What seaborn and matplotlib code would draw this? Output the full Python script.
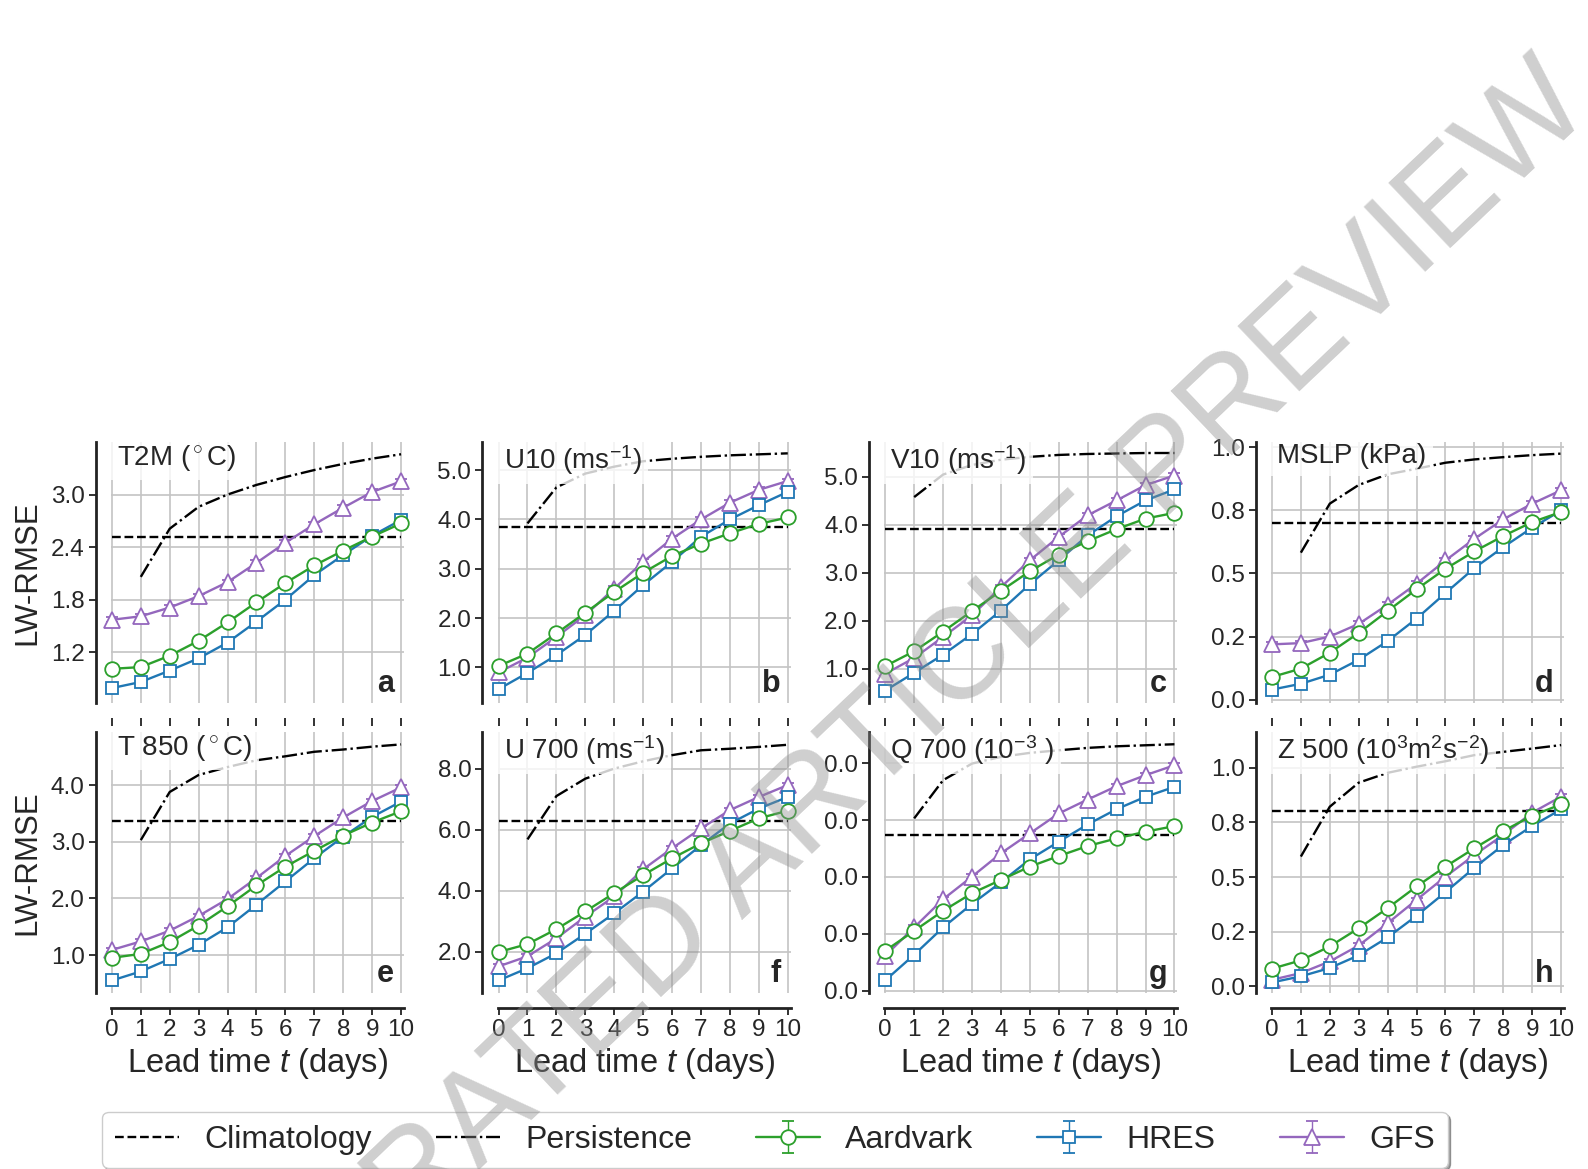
import matplotlib
matplotlib.use("Agg")
import matplotlib.pyplot as plt
import seaborn as sns
from matplotlib.ticker import FormatStrFormatter, FixedLocator

# === Data ===
DAYS = list(range(11))
PERS_DAYS = list(range(1, 11))

VARIABLES = ["T2M ($^\\circ$C)", "U10 (ms$^{-1}$)", "V10 (ms$^{-1}$)", "MSLP (kPa)",
             "T 850 ($^\\circ$C)", "U 700 (ms$^{-1}$)", "Q 700 (10$^{-3}$ )",
             "Z 500 (10$^3$m$^2$s$^{-2}$)"]
PANEL_LETTERS = ["a", "b", "c", "d", "e", "f", "g", "h"]

AARDVARK_RMSE = [
    [1.01, 1.03, 1.16, 1.33, 1.54, 1.77, 1.99, 2.19, 2.36, 2.52, 2.67],
    [1.03, 1.28, 1.69, 2.11, 2.53, 2.92, 3.26, 3.51, 3.72, 3.91, 4.04],
    [1.05, 1.36, 1.77, 2.20, 2.62, 3.03, 3.38, 3.66, 3.91, 4.13, 4.25],
    [0.090, 0.123, 0.186, 0.264, 0.351, 0.437, 0.518, 0.587, 0.648, 0.703, 0.743],
    [0.95, 1.02, 1.23, 1.52, 1.86, 2.23, 2.56, 2.84, 3.11, 3.34, 3.54],
    [1.99, 2.25, 2.74, 3.32, 3.92, 4.51, 5.06, 5.55, 5.96, 6.37, 6.62],
    [0.000351, 0.000526, 0.000702, 0.000857, 0.000974, 0.001091, 0.001184,
     0.001272, 0.001339, 0.001398, 0.001447],
    [0.081, 0.119, 0.183, 0.266, 0.358, 0.457, 0.548, 0.632, 0.711, 0.781, 0.833],
]
HRES_RMSE = [
    [0.79, 0.86, 0.99, 1.13, 1.31, 1.55, 1.80, 2.08, 2.31, 2.53, 2.71],
    [0.56, 0.89, 1.25, 1.66, 2.15, 2.67, 3.14, 3.65, 4.00, 4.29, 4.56],
    [0.54, 0.91, 1.29, 1.72, 2.21, 2.76, 3.26, 3.78, 4.18, 4.51, 4.74],
    [0.040, 0.063, 0.099, 0.158, 0.232, 0.321, 0.422, 0.521, 0.604, 0.681, 0.749],
    [0.55, 0.71, 0.93, 1.18, 1.49, 1.89, 2.30, 2.71, 3.09, 3.44, 3.71],
    [1.06, 1.46, 1.95, 2.59, 3.26, 3.97, 4.73, 5.49, 6.20, 6.69, 7.07],
    [0.0000906, 0.000316, 0.000556, 0.000763, 0.000953, 0.001155, 0.001310,
     0.001462, 0.001596, 0.001705, 0.001792],
    [0.018, 0.046, 0.084, 0.142, 0.224, 0.323, 0.431, 0.543, 0.647, 0.734, 0.810],
]
GFS_RMSE = [
    [1.57, 1.61, 1.71, 1.84, 2.00, 2.22, 2.45, 2.66, 2.85, 3.03, 3.15],
    [0.90, 1.20, 1.62, 2.06, 2.60, 3.14, 3.61, 4.00, 4.34, 4.60, 4.78],
    [0.89, 1.22, 1.66, 2.11, 2.70, 3.26, 3.75, 4.20, 4.51, 4.83, 5.03],
    [0.219, 0.224, 0.250, 0.300, 0.376, 0.459, 0.551, 0.637, 0.714, 0.776, 0.829],
    [1.09, 1.24, 1.43, 1.69, 1.99, 2.36, 2.75, 3.10, 3.43, 3.72, 3.96],
    [1.52, 1.85, 2.44, 3.15, 3.81, 4.70, 5.39, 6.04, 6.64, 7.07, 7.46],
    [0.000307, 0.000556, 0.000804, 0.001003, 0.001208, 0.001383, 0.001558,
     0.001681, 0.001798, 0.001895, 0.001982],
    [0.030, 0.061, 0.114, 0.187, 0.289, 0.396, 0.502, 0.601, 0.693, 0.795, 0.868],
]
CLIMATOLOGY = [2.51, 3.84, 3.92, 0.70, 3.37, 6.28, 0.001368, 0.802]
PERSISTENCE = [
    [2.06, 2.61, 2.86, 3.00, 3.11, 3.20, 3.28, 3.35, 3.41, 3.46],
    [3.92, 4.65, 4.93, 5.07, 5.18, 5.23, 5.27, 5.30, 5.32, 5.34],
    [4.58, 5.05, 5.25, 5.36, 5.42, 5.46, 5.48, 5.49, 5.50, 5.50],
    [0.582, 0.776, 0.850, 0.892, 0.914, 0.938, 0.951, 0.960, 0.968, 0.974],
    [3.03, 3.88, 4.18, 4.32, 4.44, 4.51, 4.59, 4.63, 4.68, 4.72],
    [5.68, 7.10, 7.67, 8.00, 8.24, 8.44, 8.60, 8.65, 8.71, 8.78],
    [0.001515, 0.001851, 0.001997, 0.002056, 0.002091, 0.002114, 0.002135,
     0.002149, 0.002158, 0.002167],
    [0.594, 0.822, 0.932, 0.977, 1.005, 1.030, 1.058, 1.073, 1.088, 1.104],
]
ERROR_BAR = [0.03, 0.05, 0.05, 0.01, 0.04, 0.08, 0.00002, 0.01]

# === Axis settings ===
Y_LIMITS = [(0.62, 3.6), (0.28, 5.57), (0.28, 5.73), (-0.013, 1.02),
            (0.33, 4.94), (0.65, 9.2), (-0.00002, 0.002275), (-0.03, 1.164)]
Y_TICKS = [[1.2, 1.8, 2.4, 3.0], [1, 2, 3, 4, 5], [1, 2, 3, 4, 5],
           [0, 0.25, 0.5, 0.75, 1.0], [1, 2, 3, 4], [2, 4, 6, 8],
           [0, 0.0005, 0.001, 0.0015, 0.002], [0, 0.25, 0.5, 0.75, 1.0]]

MODELS = [("Aardvark", AARDVARK_RMSE, "#2ca02c", "o", 10.5, 6),
          ("HRES", HRES_RMSE, "#1f77b4", "s", 9, 5),
          ("GFS", GFS_RMSE, "#9467bd", "^", 11.5, 4)]

# === Style ===
sns.set_theme(style="whitegrid", rc={
    "grid.color": "#c4c4c4",
    "grid.linewidth": 1.2,
    "axes.edgecolor": "#222222",
    "axes.linewidth": 2.0,
    "mathtext.fontset": "custom",
    "mathtext.rm": "Liberation Sans",
    "mathtext.it": "Liberation Sans:italic",
    "mathtext.bf": "Liberation Sans:bold",
})
plt.rcParams["font.family"] = ["Liberation Sans", "DejaVu Sans"]

fig, axes = plt.subplots(2, 4, figsize=(15.88, 11.69), dpi=100)
fig.subplots_adjust(left=0.0699, right=0.9849, bottom=0.1506, top=0.6219,
                    wspace=0.32, hspace=0.111)

legend_handles = []
for i, ax in enumerate(axes.flat):
    clim_line = sns.lineplot(x=[DAYS[0], DAYS[-1]], y=[CLIMATOLOGY[i], CLIMATOLOGY[i]],
                             color="black", linestyle="--", linewidth=1.7, ax=ax,
                             zorder=2).lines[-1]
    pers_line = sns.lineplot(x=PERS_DAYS, y=PERSISTENCE[i], color="black",
                             linestyle="-.", linewidth=1.7, ax=ax, zorder=2).lines[-1]
    model_handles = []
    for name, data, color, marker, ms, z in MODELS:
        h = ax.errorbar(DAYS, data[i], yerr=ERROR_BAR[i], color=color, marker=marker,
                        markersize=ms, markerfacecolor="white", markeredgecolor=color,
                        markeredgewidth=1.3, linewidth=1.7, elinewidth=1.0, capsize=4,
                        clip_on=False, zorder=z, label=name)
        model_handles.append(h)
    if i == 0:
        clim_line.set_label("Climatology")
        pers_line.set_label("Persistence")
        legend_handles = [clim_line, pers_line] + model_handles

    ax.set_xlim(-0.03, 10.1)
    ax.set_ylim(*Y_LIMITS[i])
    ax.xaxis.set_major_locator(FixedLocator(DAYS))
    ax.yaxis.set_major_locator(FixedLocator(Y_TICKS[i]))
    ax.yaxis.set_major_formatter(FormatStrFormatter("%.1f"))
    ax.tick_params(axis="both", which="major", labelsize=17.5, bottom=True, left=True,
                   length=5, width=1.3, color="#222222", pad=3)
    ax.grid(True, which="major")
    sns.despine(ax=ax, offset=11)

    if i < 4:
        ax.tick_params(axis="x", labelbottom=False, length=6)
        ax.spines["bottom"].set_visible(False)
    else:
        ax.set_xlabel("Lead time $t$ (days)", fontsize=23.5, labelpad=3)
    if i % 4 == 0:
        ax.set_ylabel("LW-RMSE", fontsize=22.5, labelpad=6)
    else:
        ax.set_ylabel("")

    ax.text(0.02, 0.995, VARIABLES[i], transform=ax.transAxes, fontsize=20,
            ha="left", va="top", zorder=10,
            bbox=dict(boxstyle="square,pad=0.25", facecolor="white",
                      edgecolor="none", alpha=0.8))
    ax.text(0.965, 0.015, PANEL_LETTERS[i], transform=ax.transAxes, fontsize=22,
            fontweight="bold", ha="right", va="bottom", zorder=10)

fig.legend(legend_handles, [h.get_label() for h in legend_handles],
           loc="center", bbox_to_anchor=(0.488, 0.025), ncol=5, fontsize=23,
           frameon=True, fancybox=True, shadow=True, framealpha=1,
           edgecolor="#cccccc", handlelength=2.0, columnspacing=2.0)

# === Watermark ===
fig.text(0.499, 0.293, "ACCELERATED ARTICLE PREVIEW", fontsize=93, rotation=43.5,
         rotation_mode="anchor", ha="center", va="center", color="#8c8c8c",
         alpha=0.42, zorder=100)

fig.savefig("out.png", dpi=100)
